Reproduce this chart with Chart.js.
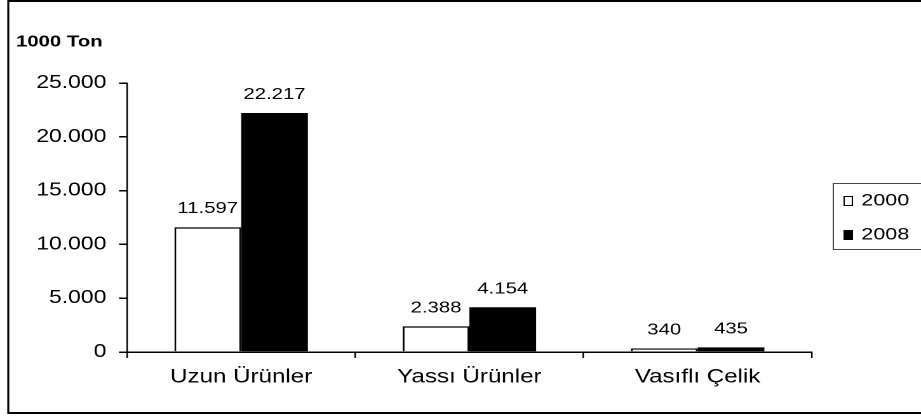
<!DOCTYPE html>
<html>
<head>
  <meta charset="UTF-8">
  <title>1000 Ton</title>
  <script src="https://cdn.jsdelivr.net/npm/chart.js"></script>
  <style>
    html, body {
      margin: 0;
      padding: 0;
      background: #fff;
      overflow: hidden;
    }
    /* the original picture is horizontally stretched, so the chart is drawn
       narrower and widened with a transform */
    #wrap {
      width: 725px;
      height: 417px;
      transform: scaleX(1.2703);
      transform-origin: 0 0;
    }
  </style>
</head>
<body>
  <div id="wrap"><canvas id="chart" width="725" height="417"></canvas></div>

  <script>
    const categories = ["Uzun Ürünler", "Yassı Ürünler", "Vasıflı Çelik"];
    const seriesNames = ["2000", "2008"];
    const values2000 = [11597, 2388, 340];
    const values2008 = [22217, 4154, 435];
    const yTicks = [0, 5000, 10000, 15000, 20000, 25000];
    const unitLabel = "1000 Ton";

    const FONT = "'Liberation Sans', Arial, sans-serif";

    // 25000 -> "25.000"
    function fmt(v) {
      return String(v).replace(/\B(?=(\d{3})+(?!\d))/g, ".");
    }

    const extras = {
      id: "extras",
      afterDatasetsDraw(chart) {
        const ctx = chart.ctx;
        ctx.save();
        ctx.fillStyle = "#000";
        ctx.font = "16px " + FONT;
        ctx.textAlign = "center";
        ctx.textBaseline = "alphabetic";
        chart.data.datasets.forEach((ds, i) => {
          chart.getDatasetMeta(i).data.forEach((bar, j) => {
            ctx.fillText(fmt(ds.data[j]), bar.x, bar.y - 14);
          });
        });
        ctx.restore();
      },
      afterDraw(chart) {
        const ctx = chart.ctx;
        ctx.save();
        // outer frame
        ctx.strokeStyle = "#000";
        ctx.lineWidth = 2;
        ctx.beginPath();
        ctx.moveTo(730, 1);
        ctx.lineTo(6.5, 1);
        ctx.stroke();
        ctx.beginPath();
        ctx.moveTo(730, 413);
        ctx.lineTo(6.5, 413);
        ctx.stroke();
        ctx.lineWidth = 1.6;
        ctx.beginPath();
        ctx.moveTo(6.5, 0);
        ctx.lineTo(6.5, 414);
        ctx.stroke();

        // unit label
        ctx.fillStyle = "#000";
        ctx.font = "bold 16px " + FONT;
        ctx.textBaseline = "middle";
        ctx.fillText(unitLabel, 12.6, 42);

        // legend
        ctx.strokeStyle = "#444";
        ctx.lineWidth = 1;
        ctx.strokeRect(656, 183.5, 80, 66);
        ctx.font = "17px " + FONT;
        chart.data.datasets.forEach((ds, i) => {
          const y = 201 + i * 34;
          ctx.fillStyle = ds.backgroundColor;
          ctx.fillRect(664, y - 5, 7, 10);
          ctx.strokeStyle = "#000";
          ctx.lineWidth = 1;
          ctx.strokeRect(664.5, y - 4.5, 6.5, 9);
          ctx.fillStyle = "#000";
          ctx.fillText(ds.label, 678, y);
        });
        ctx.restore();
      }
    };

    new Chart(document.getElementById("chart"), {
      type: "bar",
      data: {
        labels: categories,
        datasets: [
          {
            label: seriesNames[0],
            data: values2000,
            backgroundColor: "#ffffff",
            borderColor: "#000000",
            borderWidth: 1.5,
            borderSkipped: "bottom"
          },
          {
            label: seriesNames[1],
            data: values2008,
            backgroundColor: "#000000",
            borderColor: "#000000",
            borderWidth: 0
          }
        ]
      },
      options: {
        responsive: false,
        animation: false,
        devicePixelRatio: 2,
        categoryPercentage: 0.585,
        barPercentage: 1,
        layout: {
          padding: { left: 0, top: 83, right: 86, bottom: 0 }
        },
        plugins: {
          legend: { display: false },
          tooltip: { enabled: false }
        },
        scales: {
          x: {
            afterFit(scale) { scale.height = 65; },
            border: { display: true, color: "#000", width: 1.5 },
            grid: {
              display: true,
              drawOnChartArea: false,
              drawTicks: true,
              tickLength: 6,
              color: "#000",
              lineWidth: 1.2,
              offset: true
            },
            ticks: {
              color: "#000",
              font: { family: FONT, size: 19 },
              padding: 8
            }
          },
          y: {
            min: 0,
            max: 25000,
            afterFit(scale) { scale.width = 100; },
            afterBuildTicks(scale) {
              scale.ticks = yTicks.map(v => ({ value: v }));
            },
            border: { display: true, color: "#000", width: 1.2 },
            grid: {
              display: true,
              drawOnChartArea: false,
              drawTicks: true,
              tickLength: 6.3,
              color: "#000",
              lineWidth: 1.5
            },
            ticks: {
              color: "#000",
              font: { family: FONT, size: 18 },
              padding: 10,
              callback: v => fmt(v)
            }
          }
        }
      },
      plugins: [extras]
    });
  </script>
</body>
</html>
